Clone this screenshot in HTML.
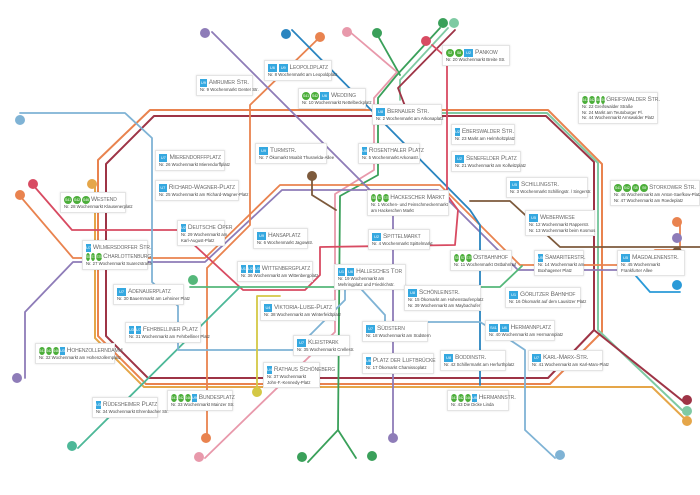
<!DOCTYPE html>
<html><head><meta charset="utf-8"><style>
body{margin:0;background:#fff;}
#w{position:relative;width:700px;height:495px;overflow:hidden;background:#fff;font-family:"Liberation Sans",sans-serif;}
svg{position:absolute;left:0;top:0}
.b{position:absolute;background:#fff;border:1px solid #e4e4e4;box-shadow:0 0 2px rgba(0,0,0,.12);padding:2px 3px;box-sizing:border-box;white-space:nowrap}
.t{font-size:6.5px;color:#6a6a6a;letter-spacing:-.1px;font-variant:small-caps;line-height:9px;display:flex;align-items:center;gap:1px}
.s{font-size:4.3px;color:#444;line-height:5.6px}
.u{display:inline-block;background:#35a8e0;color:#fff;font-size:4px;line-height:8px;width:9px;text-align:center;margin-right:1px}
.g{display:inline-block;background:#4cae3a;color:#fff;font-size:3.5px;line-height:8px;width:8px;border-radius:50%;text-align:center}
</style></head><body><div id="w">
<svg width="700" height="495" viewBox="0 0 700 495" fill="none" stroke-linejoin="round" stroke-linecap="round">
<g stroke-width="2">
<path stroke="#e9834f" d="M150,110 L548,110 L602,164 L602,332 L550,384 L146,384 L98,336 L98,160 Z"/>
<path stroke="#e5a649" d="M95,184 L95,338 L144,387 L652,387 L686,420"/>
<path stroke="#9e3446" d="M154,116 L546,116 L594,162 L594,330 L548,378 L148,378 L106,336 L106,164 Z"/>
<path stroke="#7fcaa3" d="M380,113 L547,113 L598,163 L598,330 L682,410"/>
<path stroke="#9e3446" d="M594,330 L684,402"/>
</g>
<g stroke-width="1.8">
<path stroke="#3aa05a" d="M440,28 L396,76 L378,98 L378,175 L340,196 L338,430 L308,462"/>
<path stroke="#3aa05a" d="M338,430 L356,458"/>
<path stroke="#7fcaa3" d="M448,28 L400,80 L400,100"/>
<path stroke="#9e3446" d="M455,30 L398,88 L405,106"/>
<path stroke="#3aa05a" d="M378,36 L400,75"/>
<path stroke="#e899ab" d="M350,32 L397,72 L374,98 L374,170 L335,194 L335,332 L310,356 L205,458"/>
<path stroke="#e9834f" d="M20,196 L73,258 L205,258 L280,185 L440,185 L520,265 L640,265 L655,250 L680,250 L680,222"/>
<path stroke="#8e7cb8" d="M25,378 L25,312 L73,262 L205,262 L282,190 L438,190 L518,270 L640,270 L655,256 L680,256"/>
<path stroke="#e9834f" d="M320,37 L250,105 L250,225 L207,268 L207,436"/>
<path stroke="#8e7cb8" d="M212,32 L380,200 L393,215 L393,438"/>
<path stroke="#2a85c0" d="M292,30 L470,210 L480,225 L480,385"/>
<path stroke="#d84b62" d="M432,45 L447,58 L447,195 L458,210 L455,245 L320,247 L320,275 L305,290 L243,290 L178,230 L72,230 L33,185"/>
<path stroke="#55b87a" d="M190,287 L500,287 L522,266"/>
<path stroke="#4db898" d="M240,287 L78,448"/>
<path stroke="#7fb3d5" d="M20,113 L125,113 L152,138 L152,282 L178,306 L178,350 L295,350 L345,300 L345,265"/>
<path stroke="#7fb3d5" d="M362,290 L385,315 L385,322 L480,322 L510,340 L525,350 L525,430 L555,458"/>
<path stroke="#7d5a3c" d="M470,201 L510,201 L560,247 L700,247"/>
<path stroke="#7d5a3c" d="M312,180 L312,195 L336,210"/>
<path stroke="#d4c845" d="M280,296 L257,296 L257,392"/>
<path stroke="#2a9ad8" d="M636,276 L650,292 L680,292"/>
</g>
<g>
<circle cx="205" cy="33" r="5" fill="#8e7cb8"/><circle cx="286" cy="34" r="5" fill="#2a85c0"/><circle cx="320" cy="37" r="5" fill="#e9834f"/>
<circle cx="347" cy="32" r="5" fill="#e899ab"/><circle cx="377" cy="33" r="5" fill="#3aa05a"/><circle cx="426" cy="41" r="5" fill="#d84b62"/>
<circle cx="443" cy="23" r="5" fill="#3aa05a"/><circle cx="454" cy="23" r="5" fill="#7fcaa3"/>
<circle cx="20" cy="120" r="5" fill="#7fb3d5"/><circle cx="33" cy="184" r="5" fill="#d84b62"/><circle cx="20" cy="195" r="5" fill="#e9834f"/>
<circle cx="92" cy="184" r="5" fill="#e5a649"/><circle cx="17" cy="378" r="5" fill="#8e7cb8"/><circle cx="72" cy="446" r="5" fill="#4db898"/>
<circle cx="206" cy="438" r="5" fill="#e9834f"/><circle cx="199" cy="457" r="5" fill="#e899ab"/><circle cx="257" cy="392" r="5" fill="#d4c845"/>
<circle cx="302" cy="457" r="5" fill="#3aa05a"/><circle cx="193" cy="280" r="5" fill="#55b87a"/><circle cx="312" cy="176" r="5" fill="#7d5a3c"/>
<circle cx="393" cy="438" r="5" fill="#8e7cb8"/><circle cx="372" cy="456" r="5" fill="#3aa05a"/><circle cx="560" cy="455" r="5" fill="#7fb3d5"/>
<circle cx="687" cy="400" r="5" fill="#9e3446"/><circle cx="687" cy="411" r="5" fill="#7fcaa3"/><circle cx="687" cy="421" r="5" fill="#e5a649"/>
<circle cx="677" cy="222" r="5" fill="#e9834f"/><circle cx="677" cy="238" r="5" fill="#8e7cb8"/><circle cx="677" cy="252" r="5" fill="#7d5a3c"/>
<circle cx="677" cy="285" r="5" fill="#2a9ad8"/>
</g>
</svg>

<div class="b" style="left:196px;top:75px;width:57px"><div class="t"><span class="u">U9</span>Amrumer Str.</div><div class="s">Nr. 9 Wochenmarkt Genter Str.</div></div>
<div class="b" style="left:264px;top:60px;width:68px"><div class="t"><span class="u">U6</span><span class="u">U9</span>Leopoldplatz</div><div class="s">Nr. 8 Wochenmarkt am Leopoldplatz</div></div>
<div class="b" style="left:298px;top:88px;width:68px"><div class="t"><span class="g">S41</span><span class="g">S42</span><span class="u">U6</span>Wedding</div><div class="s">Nr. 10 Wochenmarkt Nettelbeckplatz</div></div>
<div class="b" style="left:372px;top:104px;width:70px"><div class="t"><span class="u">U8</span>Bernauer Str.</div><div class="s">Nr. 2 Wochenmarkt am Arkonaplatz</div></div>
<div class="b" style="left:442px;top:45px;width:68px"><div class="t"><span class="g">S2</span><span class="g">S8</span><span class="u">U2</span>Pankow</div><div class="s">Nr. 20 Wochenmarkt Breite Str.</div></div>
<div class="b" style="left:578px;top:92px;width:80px"><div class="t"><span class="g">S41</span><span class="g">S42</span><span class="g">S8</span><span class="g">S9</span>Greifswalder Str.</div><div class="s">Nr. 22 Greifswalder Straße<br>Nr. 24 Markt am Teutoburger Pl.<br>Nr. 44 Wochenmarkt Arnswalder Platz</div></div>
<div class="b" style="left:451px;top:124px;width:64px"><div class="t"><span class="u">U2</span>Eberswalder Str.</div><div class="s">Nr. 23 Markt am Helmholtzplatz</div></div>
<div class="b" style="left:451px;top:151px;width:70px"><div class="t"><span class="u">U2</span>Senefelder Platz</div><div class="s">Nr. 21 Wochenmarkt am Kollwitzplatz</div></div>
<div class="b" style="left:358px;top:143px;width:62px"><div class="t"><span class="u">U8</span>Rosenthaler Platz</div><div class="s">Nr. 5 Wochenmarkt Arkonastr.</div></div>
<div class="b" style="left:506px;top:177px;width:82px"><div class="t"><span class="u">U5</span>Schillingstr.</div><div class="s">Nr. 3 Wochenmarkt Schillingstr. / Singerstr.</div></div>
<div class="b" style="left:610px;top:180px;width:90px"><div class="t"><span class="g">S41</span><span class="g">S42</span><span class="g">S8</span><span class="g">S9</span>Storkower Str.</div><div class="s">Nr. 46 Wochenmarkt am Anton-Saefkow-Platz<br>Nr. 47 Wochenmarkt am Roedeplatz</div></div>
<div class="b" style="left:525px;top:210px;width:70px"><div class="t"><span class="u">U5</span>Weberwiese</div><div class="s">Nr. 12 Wochenmarkt Rapperstr.<br>Nr. 13 Wochenmarkt beim Kosmos</div></div>
<div class="b" style="left:367px;top:190px;width:82px"><div class="t"><span class="g">S5</span><span class="g">S7</span><span class="g">S75</span>Hackescher Markt</div><div class="s">Nr. 1 Wochen- und Feinschmeckermarkt<br>am Hackeschen Markt</div></div>
<div class="b" style="left:368px;top:229px;width:62px"><div class="t"><span class="u">U2</span>Spittelmarkt</div><div class="s">Nr. 4 Wochenmarkt Spittelmarkt</div></div>
<div class="b" style="left:255px;top:143px;width:72px"><div class="t"><span class="u">U9</span>Turmstr.</div><div class="s">Nr. 7 Ökomarkt Moabit Thusnelda-Allee</div></div>
<div class="b" style="left:155px;top:150px;width:70px"><div class="t"><span class="u">U7</span>Mierendorffplatz</div><div class="s">Nr. 26 Wochenmarkt Mierendorffplatz</div></div>
<div class="b" style="left:155px;top:180px;width:84px"><div class="t"><span class="u">U7</span>Richard-Wagner-Platz</div><div class="s">Nr. 25 Wochenmarkt am Richard-Wagner-Platz</div></div>
<div class="b" style="left:60px;top:192px;width:66px"><div class="t"><span class="g">S41</span><span class="g">S42</span><span class="g">S46</span>Westend</div><div class="s">Nr. 28 Wochenmarkt Klausenerplatz</div></div>
<div class="b" style="left:177px;top:220px;width:48px"><div class="t"><span class="u">U2</span>Deutsche Oper</div><div class="s">Nr. 29 Wochenmarkt am<br>Karl-August-Platz</div></div>
<div class="b" style="left:253px;top:228px;width:55px"><div class="t"><span class="u">U9</span>Hansaplatz</div><div class="s">Nr. 6 Wochenmarkt Jagowstr.</div></div>
<div class="b" style="left:82px;top:240px;width:66px"><div class="t"><span class="u">U7</span>Wilmersdorfer Str.</div><div class="t"><span class="g">S5</span><span class="g">S7</span><span class="g">S75</span>Charlottenburg</div><div class="s">Nr. 27 Wochenmarkt Suarezstraße</div></div>
<div class="b" style="left:237px;top:261px;width:76px"><div class="t"><span class="u">U1</span><span class="u">U2</span><span class="u">U3</span>Wittenbergplatz</div><div class="s">Nr. 36 Wochenmarkt am Wittenbergplatz</div></div>
<div class="b" style="left:334px;top:264px;width:72px"><div class="t"><span class="u">U1</span><span class="u">U6</span>Hallesches Tor</div><div class="s">Nr. 19 Wochenmarkt am<br>Mehringplatz und Friedrichstr.</div></div>
<div class="b" style="left:113px;top:284px;width:71px"><div class="t"><span class="u">U7</span>Adenauerplatz</div><div class="s">Nr. 30 Bauernmarkt am Lehniner Platz</div></div>
<div class="b" style="left:450px;top:250px;width:62px"><div class="t"><span class="g">S5</span><span class="g">S7</span><span class="g">S75</span>Ostbahnhof</div><div class="s">Nr. 11 Wochenmarkt Ostbahnhof</div></div>
<div class="b" style="left:534px;top:250px;width:50px"><div class="t"><span class="u">U5</span>Samariterstr.</div><div class="s">Nr. 14 Wochenmarkt am<br>Boxhagener Platz</div></div>
<div class="b" style="left:617px;top:250px;width:68px"><div class="t"><span class="u">U5</span>Magdalenenstr.</div><div class="s">Nr. 45 Wochenmarkt<br>Frankfurter Allee</div></div>
<div class="b" style="left:404px;top:285px;width:77px"><div class="t"><span class="u">U8</span>Schönleinstr.</div><div class="s">Nr. 15 Ökomarkt am Hohenstaufenplatz<br>Nr. 39 Wochenmarkt am Maybachufer</div></div>
<div class="b" style="left:505px;top:287px;width:76px"><div class="t"><span class="u">U1</span>Görlitzer Bahnhof</div><div class="s">Nr. 16 Ökomarkt auf dem Lausitzer Platz</div></div>
<div class="b" style="left:260px;top:300px;width:76px"><div class="t"><span class="u">U4</span>Viktoria-Luise-Platz</div><div class="s">Nr. 38 Wochenmarkt am Winterfeldtplatz</div></div>
<div class="b" style="left:125px;top:322px;width:76px"><div class="t"><span class="u">U3</span><span class="u">U7</span>Fehrbelliner Platz</div><div class="s">Nr. 31 Wochenmarkt am Fehrbelliner Platz</div></div>
<div class="b" style="left:362px;top:321px;width:66px"><div class="t"><span class="u">U7</span>Südstern</div><div class="s">Nr. 18 Wochenmarkt am Südstern</div></div>
<div class="b" style="left:485px;top:320px;width:70px"><div class="t"><span class="u">S41</span><span class="u">U8</span>Hermannplatz</div><div class="s">Nr. 40 Wochenmarkt am Hermannplatz</div></div>
<div class="b" style="left:293px;top:335px;width:57px"><div class="t"><span class="u">U7</span>Kleistpark</div><div class="s">Nr. 35 Wochenmarkt Crellestr.</div></div>
<div class="b" style="left:35px;top:343px;width:80px"><div class="t"><span class="g">S41</span><span class="g">S42</span><span class="g">S46</span><span class="u">U3</span>Hohenzollerndamm</div><div class="s">Nr. 32 Wochenmarkt am Hohenzollernplatz</div></div>
<div class="b" style="left:362px;top:353px;width:72px"><div class="t"><span class="u">U6</span>Platz der Luftbrücke</div><div class="s">Nr. 17 Ökomarkt Chamissoplatz</div></div>
<div class="b" style="left:528px;top:350px;width:75px"><div class="t"><span class="u">U7</span>Karl-Marx-Str.</div><div class="s">Nr. 41 Wochenmarkt am Karl-Marx-Platz</div></div>
<div class="b" style="left:440px;top:350px;width:66px"><div class="t"><span class="u">U8</span>Boddinstr.</div><div class="s">Nr. 42 Schillermarkt am Herfurthplatz</div></div>
<div class="b" style="left:263px;top:362px;width:57px"><div class="t"><span class="u">U4</span>Rathaus Schöneberg</div><div class="s">Nr. 37 Wochenmarkt<br>John-F.-Kennedy-Platz</div></div>
<div class="b" style="left:167px;top:390px;width:66px"><div class="t"><span class="g">S41</span><span class="g">S42</span><span class="g">S46</span><span class="u">U9</span>Bundesplatz</div><div class="s">Nr. 33 Wochenmarkt Mainzer Str.</div></div>
<div class="b" style="left:92px;top:397px;width:66px"><div class="t"><span class="u">U3</span>Rüdesheimer Platz</div><div class="s">Nr. 34 Wochenmarkt Ehrenbacher Str.</div></div>
<div class="b" style="left:447px;top:390px;width:62px"><div class="t"><span class="g">S41</span><span class="g">S42</span><span class="g">S46</span><span class="u">U8</span>Hermannstr.</div><div class="s">Nr. 43 Die Dicke Linda</div></div>
</div></body></html>
